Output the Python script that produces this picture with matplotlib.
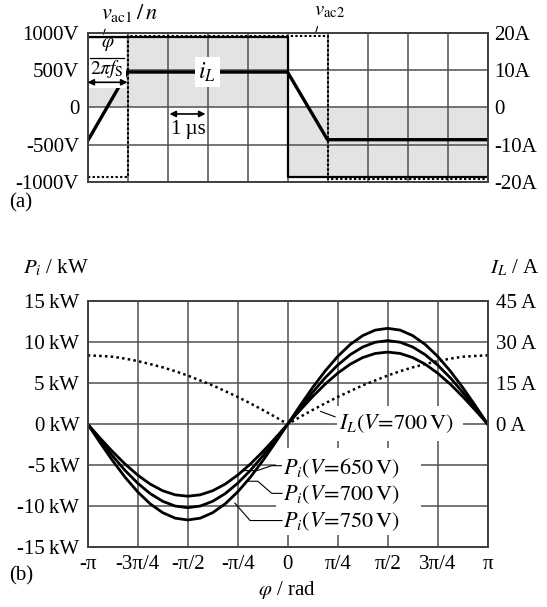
import numpy as np
import matplotlib.pyplot as plt
from matplotlib.patches import Rectangle

plt.rcParams['font.family'] = ['Liberation Serif', 'DejaVu Serif']
plt.rcParams['mathtext.fontset'] = 'stix'

# (a) one switching period, time in microseconds
t_vac1 = [0, 5, 5, 10]
vac1n = [940, 940, -940, -940]
t_vac2 = [0, 1, 1, 6, 6, 10]
vac2 = [-940, -940, 955, 955, -965, -965]
t_iL = [0, 1, 5, 6, 10]
iL = [-9.1, 9.5, 9.5, -8.7, -8.7]

volt_ticks = [-1000, -500, 0, 500, 1000]
volt_labels = ['-1000V', '-500V', '0', '500V', '1000V']
amp_ticks = [-20, -10, 0, 10, 20]
amp_labels = ['-20A', '-10A', '0', '10A', '20A']

# (b) power and inductor current against phase shift (steps of pi/16)
phi_idx = list(range(-16, 17))
P650 = [0, -1.72, -3.37, -4.89, -6.22, -7.32, -8.13, -8.63, -8.8, -8.63, -8.13, -7.32, -6.22, -4.89, -3.37, -1.72,
        0, 1.72, 3.37, 4.89, 6.22, 7.32, 8.13, 8.63, 8.8, 8.63, 8.13, 7.32, 6.22, 4.89, 3.37, 1.72, 0]
P700 = [0, -1.99, -3.90, -5.67, -7.21, -8.48, -9.42, -10.0, -10.2, -10.0, -9.42, -8.48, -7.21, -5.67, -3.90, -1.99,
        0, 1.99, 3.90, 5.67, 7.21, 8.48, 9.42, 10.0, 10.2, 10.0, 9.42, 8.48, 7.21, 5.67, 3.90, 1.99, 0]
P750 = [0, -2.28, -4.48, -6.50, -8.27, -9.73, -10.81, -11.48, -11.7, -11.48, -10.81, -9.73, -8.27, -6.50, -4.48, -2.28,
        0, 2.28, 4.48, 6.50, 8.27, 9.73, 10.81, 11.48, 11.7, 11.48, 10.81, 9.73, 8.27, 6.50, 4.48, 2.28, 0]
IL700 = [25.2, 25.0, 24.7, 24.0, 23.1, 22.0, 20.8, 19.4, 17.8, 16.0, 14.2, 12.1, 9.95, 7.64, 5.22, 2.67,
         0, 2.67, 5.22, 7.64, 9.95, 12.1, 14.2, 16.0, 17.8, 19.4, 20.8, 22.0, 23.1, 24.0, 24.7, 25.0, 25.2]

phi_ticks_idx = [-4, -3, -2, -1, 0, 1, 2, 3, 4]
phi_labels = ['-π', '-3π/4', '-π/2', '-π/4', '0', 'π/4', 'π/2', '3π/4', 'π']
kw_ticks = [-15, -10, -5, 0, 5, 10, 15]
kw_labels = ['-15\u2009kW', '-10\u2009kW', '-5\u2009kW', '0\u2009kW', '5\u2009kW', '10\u2009kW', '15\u2009kW']
a_ticks = [0, 15, 30, 45]
a_labels = ['0\u2009A', '15\u2009A', '30\u2009A', '45\u2009A']

fs = 15
gridc = '#505050'

fig = plt.figure(figsize=(5.47, 6.07), dpi=100)
ax1 = fig.add_axes([87.5 / 547, 1 - 181.7 / 607, 400 / 547, 148.7 / 607])
ax2 = fig.add_axes([87.7 / 547, 1 - 547 / 607, 400 / 547, 245.7 / 607])

# ---- (a) ----
ax1.set_xlim(0, 10)
ax1.set_ylim(-1000, 1000)
ax1.set_xticks(range(11))
ax1.set_yticks(volt_ticks)
ax1.set_yticklabels(volt_labels, fontsize=fs)
ax1.tick_params(length=0, labelbottom=False, pad=6)
ax1.set_axisbelow('line')
ax1.grid(True, color=gridc, lw=1.1)
ax1.fill_between(t_vac1, 0, vac1n, color='#e3e3e3', lw=0, zorder=1)
ax1.plot(t_vac1, vac1n, color='k', lw=1.6, zorder=2)
ax1.plot(t_vac2, vac2, color='k', lw=1.5, ls=(0, (1.1, 1.1)), zorder=2)

axr = ax1.twinx()
axr.set_ylim(-20, 20)
axr.set_yticks(amp_ticks)
axr.set_yticklabels(amp_labels, fontsize=fs)
axr.tick_params(length=0, pad=5)
axr.plot(t_iL, iL, color='k', lw=2.4, zorder=2)

tr1 = ax1.transData
axr.add_patch(Rectangle((0.03, 265), 0.93, 650, transform=tr1, fc='white', ec='none', zorder=3))
axr.text(0.5, 845, r'$\varphi$', transform=tr1, ha='center', va='center', fontsize=14, zorder=4)
axr.plot([0.05, 0.92], [668, 668], transform=tr1, color='k', lw=0.9, zorder=4)
axr.text(0.48, 515, r'$2\pi f_{\mathrm{S}}$', transform=tr1, ha='center', va='center', fontsize=14, zorder=4)
axr.annotate('', xy=(0, 337), xytext=(1, 337), xycoords=tr1, textcoords=tr1,
             arrowprops=dict(arrowstyle='<|-|>', color='k', lw=1.2, mutation_scale=9, shrinkA=0, shrinkB=0),
             zorder=4)
axr.text(2.99, 9.5, r'$i_L$', ha='center', va='center', fontsize=17, zorder=4,
         bbox=dict(boxstyle='square,pad=0.15', fc='white', ec='none'))
axr.annotate('', xy=(2.05, -89), xytext=(2.95, -89), xycoords=tr1, textcoords=tr1,
             arrowprops=dict(arrowstyle='<|-|>', color='k', lw=1.2, mutation_scale=9, shrinkA=0, shrinkB=0),
             zorder=4)
axr.text(2.51, -304, '1\u2009µs', transform=tr1, ha='center', va='center', fontsize=fs, zorder=4)

axr.text(1.04, 1269, r'$v_{\mathrm{ac1}}\,/\,n$', transform=tr1, ha='center', va='center', fontsize=16, clip_on=False)
axr.plot([0.44, 0.40], [1050, 985], transform=tr1, color='k', lw=0.8, clip_on=False)
axr.text(6.06, 1300, r'$v_{\mathrm{ac2}}$', transform=tr1, ha='center', va='center', fontsize=15, clip_on=False)
axr.plot([5.75, 5.70], [1085, 995], transform=tr1, color='k', lw=0.8, clip_on=False)

# ---- (b) ----
phi = np.array(phi_idx) * np.pi / 16
ax2.set_xlim(-np.pi, np.pi)
ax2.set_ylim(-15, 15)
ax2.set_xticks(np.array(phi_ticks_idx) * np.pi / 4)
ax2.set_xticklabels(phi_labels, fontsize=fs)
ax2.set_yticks(kw_ticks)
ax2.set_yticklabels(kw_labels, fontsize=fs)
ax2.tick_params(length=0, pad=6)
ax2.set_axisbelow('line')
ax2.grid(True, color=gridc, lw=1.1)
for P in (P650, P700, P750):
    ax2.plot(phi, P, color='k', lw=2.0, zorder=2)

axr2 = ax2.twinx()
axr2.set_ylim(-45, 45)
axr2.set_yticks(a_ticks)
axr2.set_yticklabels(a_labels, fontsize=fs)
axr2.tick_params(length=0, pad=6)
axr2.plot(phi, IL700, color='k', lw=1.8, ls=(0, (1, 1.3)), zorder=2)

tr2 = ax2.transData
axr2.add_patch(Rectangle((0.774, -2.05), 1.98, 4.3, transform=tr2, fc='white', ec='none', zorder=3))
axr2.add_patch(Rectangle((-0.184, -13.49), 2.278, 10.58, transform=tr2, fc='white', ec='none', zorder=3))
axr2.text(0.80, 0, r'$I_L(V\!=\!700\,\mathrm{V})$', transform=tr2, ha='left', va='center', fontsize=16, zorder=4)
axr2.plot([0.518, 0.743], [1.55, 0.9], transform=tr2, color='k', lw=0.8, zorder=4)

pi_labels = [r'$P_i(V\!=\!650\,\mathrm{V})$', r'$P_i(V\!=\!700\,\mathrm{V})$', r'$P_i(V\!=\!750\,\mathrm{V})$']
label_y = [-5.34, -8.61, -11.89]
leaders = [([-0.70, -0.48, -0.25, -0.10], [-5.67, -5.67, -5.07, -5.07]),
           ([-0.64, -0.47, -0.25, -0.09], [-6.97, -6.97, -8.45, -8.45]),
           ([-0.83, -0.59, -0.09], [-9.64, -11.77, -11.77])]
for txt, y, (lx, ly) in zip(pi_labels, label_y, leaders):
    axr2.text(-0.07, y, txt, transform=tr2, ha='left', va='center', fontsize=16, zorder=4)
    axr2.plot(lx, ly, transform=tr2, color='k', lw=0.8, zorder=4)

for a in (ax1, axr, ax2, axr2):
    for s in a.spines.values():
        s.set_color('#404040')
        s.set_linewidth(1.2)

fig.text(21 / 547, 1 - 203 / 607, '(a)', ha='center', va='center', fontsize=fs)
fig.text(21 / 547, 1 - 576 / 607, '(b)', ha='center', va='center', fontsize=fs)
fig.text(287 / 547, 1 - 590 / 607, r'$\varphi$ / rad', ha='center', va='center', fontsize=fs)
fig.text(56 / 547, 1 - 268 / 607, r'$P_i$ / kW', ha='center', va='center', fontsize=fs)
fig.text(515 / 547, 1 - 268 / 607, r'$I_L$ / A', ha='center', va='center', fontsize=fs)

fig.savefig('out.png', dpi=100)
